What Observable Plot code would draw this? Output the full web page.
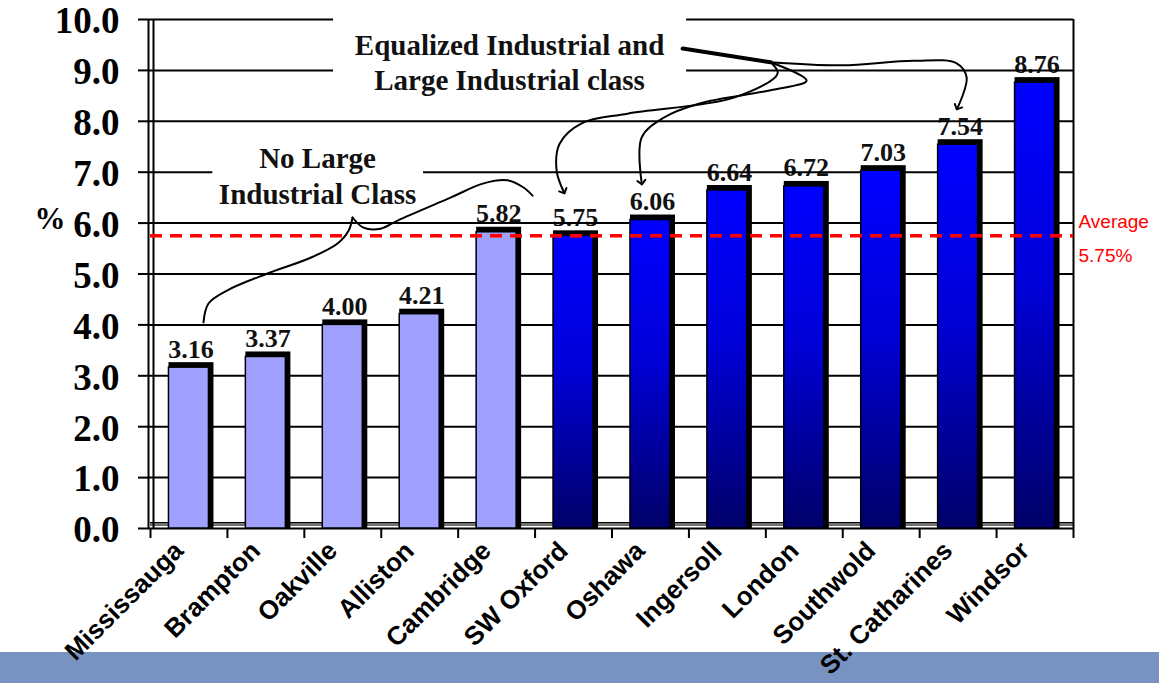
<!DOCTYPE html>
<html><head><meta charset="utf-8">
<script src="https://cdn.jsdelivr.net/npm/d3@7"></script>
<script src="https://cdn.jsdelivr.net/npm/@observablehq/plot@0.6"></script>
<style>
body{margin:0;background:#fff;}
#wrap{position:relative;width:1159px;height:683px;overflow:hidden;background:#fff;}
#footer{position:absolute;left:0;top:652px;width:1159px;height:31px;background:#7893c1;z-index:0;}
#chart{position:absolute;left:0;top:0;z-index:1;}
</style></head>
<body><div id="wrap"><div id="footer"></div><div id="chart"></div></div>
<script>
// ---- data ----
const cities = ["Mississauga","Brampton","Oakville","Alliston","Cambridge","SW Oxford","Oshawa","Ingersoll","London","Southwold","St. Catharines","Windsor"];
const values = [3.16,3.37,4.00,4.21,5.82,5.75,6.06,6.64,6.72,7.03,7.54,8.76];
const groups = ["none","none","none","none","none","large","large","large","large","large","large","large"];
const average = 5.75;
const yTicks = [0,1,2,3,4,5,6,7,8,9,10];
const annotTextEqualized = "Equalized Industrial and\nLarge Industrial class";
const annotTextNoLarge = "No Large\nIndustrial Class";
// annotation geometry, in data units (x = category index, y = %)
const boxEqualized = [{x1:1.88, x2:6.47, y1:8.5, y2:10.12}];
const boxNoLarge = [{x1:0.31, x2:3.05, y1:6.25, y2:7.62}];
const labelEqualized = [{x:4.168, y:9.18}];
const labelNoLarge = [{x:1.672, y:6.95}];
const braceNoLarge = [
  {x:0.189,y:4.05},{x:0.254,y:4.42},{x:0.501,y:4.68},{x:1.021,y:5.01},{x:1.581,y:5.32},
  {x:1.932,y:5.60},{x:2.075,y:5.85},{x:2.127,y:6.11}];
const braceNoLarge2 = [
  {x:2.127,y:6.11},{x:2.270,y:5.91},{x:2.491,y:5.89},{x:2.712,y:6.05},{x:3.401,y:6.50},
  {x:3.830,y:6.78},{x:4.142,y:6.84},{x:4.350,y:6.70},{x:4.467,y:6.54}];
const wedgeEqualized = [{x:6.418,y:9.43},{x:7.562,y:9.16}];
const arrowSWOxford = [
  {x:7.562,y:9.16},{x:7.653,y:8.94},{x:7.094,y:8.47},{x:5.703,y:8.15},{x:5.105,y:7.96},
  {x:4.819,y:7.56},{x:4.780,y:7.03},{x:4.871,y:6.62}];
const arrowOshawa = [
  {x:7.562,y:9.16},{x:8.030,y:8.80},{x:7.562,y:8.61},{x:6.639,y:8.35},{x:6.171,y:8.07},
  {x:5.885,y:7.68},{x:5.885,y:6.80}];
const arrowStCath = [
  {x:7.562,y:9.16},{x:8.486,y:9.10},{x:9.422,y:9.19},{x:9.981,y:9.14},{x:10.111,y:8.86},
  {x:9.994,y:8.27}];

const data = cities.map((c,i)=>({i, city:c, value:values[i], group:groups[i]}));

const serif = "'Times New Roman','Liberation Serif',serif";
const sans = "Arial,'Liberation Sans',sans-serif";

const gradient = () => {
  const defs = d3.create("svg:defs");
  const g = defs.append("linearGradient").attr("id","blueGrad")
    .attr("x1",0).attr("y1",0).attr("x2",0).attr("y2",1);
  g.append("stop").attr("offset","0%").attr("stop-color","#0000ff");
  g.append("stop").attr("offset","45%").attr("stop-color","#0000d8");
  g.append("stop").attr("offset","100%").attr("stop-color","#000068");
  return defs.node();
};

const bw = 0.26;
const plot = Plot.plot({
  width:1159, height:683,
  marginLeft:150, marginRight:86, marginTop:19, marginBottom:155,
  x:{domain:[-0.5,11.5], axis:null},
  y:{domain:[0,10], axis:null},
  style:{background:"transparent", overflow:"visible"},
  marks:[
    gradient,
    // floor
    Plot.ruleY([0], {dy:-4, stroke:"#707070", strokeWidth:3}),
    Plot.ruleY([0], {dy:-6, stroke:"#000", strokeWidth:1}),
    // value labels (under the gridlines, as in the original)
    Plot.text(data, {x:"i", y:"value", text:d=>d.value.toFixed(2), dx:2, dy:-10, lineAnchor:"bottom",
      fontSize:26, fontWeight:"bold", fontFamily:serif, fill:"#111"}),
    // gridlines
    Plot.ruleY(yTicks, {stroke:"#000", strokeWidth:2}),
    // frame walls
    Plot.ruleX([-0.5], {dx:-2, stroke:"#000", strokeWidth:2}),
    Plot.ruleX([-0.5], {dx:3, stroke:"#000", strokeWidth:2}),
    Plot.ruleX([11.5], {stroke:"#000", strokeWidth:2}),
    // bars: dark 3D back, then face
    Plot.rectY(data, {x1:d=>d.i-bw, x2:d=>d.i+bw, y1:0, y2:"value", fill:"#000", insetRight:-5, insetTop:-5}),
    Plot.rectY(data, {filter:d=>d.group==="none", x1:d=>d.i-bw, x2:d=>d.i+bw, y1:0, y2:"value",
      fill:"#a0a0ff", stroke:"#000", strokeWidth:1.5}),
    Plot.rectY(data, {filter:d=>d.group==="large", x1:d=>d.i-bw, x2:d=>d.i+bw, y1:0, y2:"value",
      fill:"url(#blueGrad)", stroke:"#000", strokeWidth:1.5}),
    // average line
    Plot.ruleY([average], {stroke:"#ff0000", strokeWidth:3.5, strokeDasharray:"12,8"}),
    Plot.text([`Average\n${average.toFixed(2)}%`], {frameAnchor:"right", y:()=>average, dx:5, dy:-2,
      textAnchor:"start", lineHeight:1.8, fontSize:19, fontFamily:sans, fill:"#ff0000"}),
    // y axis: ticks + labels
    Plot.axisY(yTicks, {tickSize:12, tickFormat:()=>"", strokeWidth:2, color:"#000", label:null}),
    Plot.text(yTicks, {frameAnchor:"left", y:d=>d, dx:-31, dy:2, textAnchor:"end", text:d3.format(".1f"),
      fontSize:37, fontWeight:"bold", fontFamily:serif, fill:"#000"}),
    Plot.text(["%"], {frameAnchor:"left", y:()=>6, dx:-116, dy:-4, textAnchor:"start",
      fontSize:31, fontWeight:"bold", fontFamily:serif, fill:"#000"}),
    // x axis: boundary ticks + rotated labels
    Plot.axisX(d3.range(-0.5, 12, 1), {tickSize:10, tickFormat:()=>"", strokeWidth:2, label:null}),
    Plot.axisX(d3.range(cities.length), {tickSize:0, tickPadding:18, tickRotate:-45, dx:-10,
      tickFormat:i=>cities[i], fontSize:26, fontWeight:"bold", fontFamily:sans, fill:"#000", label:null}),
    // annotations
    Plot.rect(boxEqualized, {x1:"x1", x2:"x2", y1:"y1", y2:"y2", fill:"#fff"}),
    Plot.rect(boxNoLarge, {x1:"x1", x2:"x2", y1:"y1", y2:"y2", fill:"#fff"}),
    Plot.text(labelEqualized, {x:"x", y:"y", text:()=>annotTextEqualized, lineHeight:1.22,
      fontSize:29, fontWeight:"bold", fontFamily:serif, fill:"#111"}),
    Plot.text(labelNoLarge, {x:"x", y:"y", text:()=>annotTextNoLarge, lineHeight:1.22,
      fontSize:29, fontWeight:"bold", fontFamily:serif, fill:"#111"}),
    Plot.line(braceNoLarge, {x:"x", y:"y", curve:"catmull-rom", stroke:"#000", strokeWidth:2}),
    Plot.line(braceNoLarge2, {x:"x", y:"y", curve:"catmull-rom", stroke:"#000", strokeWidth:2}),
    Plot.line(wedgeEqualized, {x:"x", y:"y", stroke:"#000", strokeWidth:4}),
    Plot.line(arrowSWOxford, {x:"x", y:"y", curve:"catmull-rom", stroke:"#000", strokeWidth:2, markerEnd:"arrow"}),
    Plot.line(arrowOshawa, {x:"x", y:"y", curve:"catmull-rom", stroke:"#000", strokeWidth:2, markerEnd:"arrow"}),
    Plot.line(arrowStCath, {x:"x", y:"y", curve:"catmull-rom", stroke:"#000", strokeWidth:2, markerEnd:"arrow"})
  ]
});
document.getElementById("chart").appendChild(plot);
</script>
</body></html>
